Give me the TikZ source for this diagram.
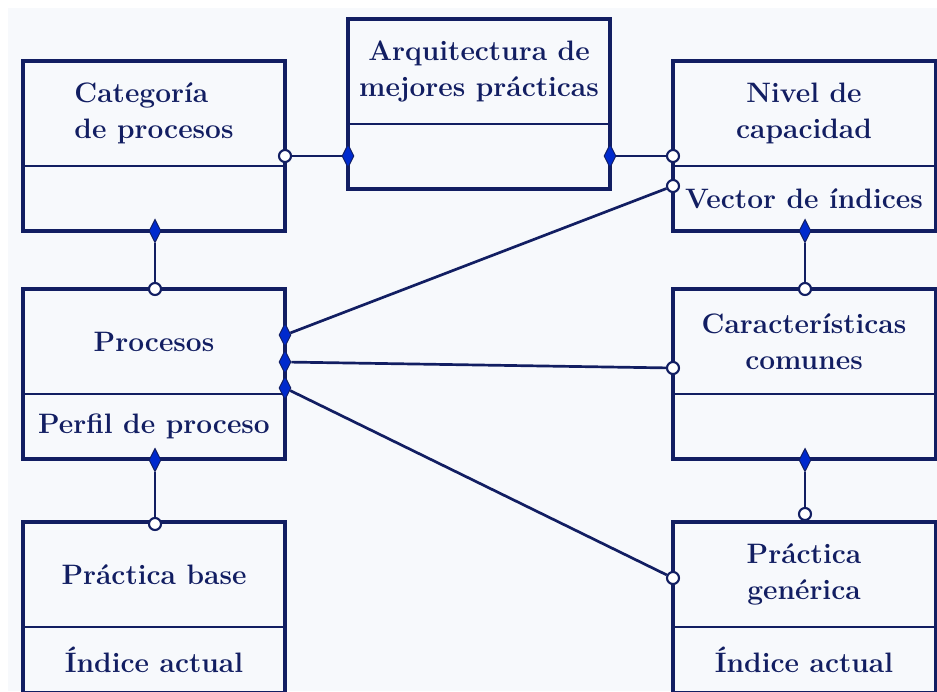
\documentclass[tikz,border=0pt]{standalone}
\usepackage{fontspec}
\usepackage[table]{xcolor}
\usepackage{amsmath}
\usepackage{tikz}
\usetikzlibrary{shapes.geometric,positioning}

\definecolor{navy}{RGB}{18,30,98}
\definecolor{dblue}{RGB}{0,42,205}
\definecolor{bgtint}{RGB}{247,249,252}

\begin{document}
\begin{tikzpicture}[x=0.03cm, y=-0.03cm,
		upper/.style={draw=navy, line width=1.7pt, text=navy, font=\fontsize{24}{31}\selectfont\bfseries, align=center, minimum width=7.86cm, minimum height=3.15cm, inner sep=0pt, outer sep=0pt},
		lower/.style={upper, minimum height=1.95cm},
		outer/.style={draw=navy, line width=2.6pt},
		dmd/.style={diamond, draw=navy, fill=dblue, line width=0.8pt, minimum width=0.36cm, minimum height=0.7cm, inner sep=0pt},
		circ/.style={circle, draw=navy, fill=white, line width=1.8pt, minimum size=0.36cm, inner sep=0pt},
		link/.style={draw=navy, line width=2.3pt}]
				\useasboundingbox (0,0) rectangle (937,691);
				\fill[bgtint] (8,8) rectangle (937,691);
				
				% boxes
				\node[upper, anchor=north west, align=left] (cat) at (23,61) {Categoría\\de procesos};
				\node[lower, below=0pt of cat] (cat-low) {};
				\node[upper, anchor=north west] (arq) at (348,19) {Arquitectura de\\mejores prácticas};
				\node[lower, below=0pt of arq] (arq-low) {};
				\node[upper, anchor=north west] (niv) at (673,61) {Nivel de\\capacidad};
				\node[lower, below=0pt of niv] (niv-low) {Vector de índices};
				\node[upper, anchor=north west] (proc) at (23,289) {Procesos};
				\node[lower, below=0pt of proc] (proc-low) {Perfil de proceso};
				\node[upper, anchor=north west] (car) at (673,289) {Características\\comunes};
				\node[lower, below=0pt of car] (car-low) {};
				\node[upper, anchor=north west] (pb) at (23,522) {Práctica base};
				\node[lower, below=0pt of pb] (pb-low) {Índice actual};
				\node[upper, anchor=north west] (pg) at (673,522) {Práctica\\genérica};
				\node[lower, below=0pt of pg] (pg-low) {Índice actual};
				\foreach \b in {cat,arq,niv,proc,car,pb,pg}
					\draw[outer] (\b.north west) rectangle (\b-low.south east);
				\draw[navy, line width=4pt] (arq.north west) -- (arq-low.south west);
				
				% markers
				\node[circ] (c1) at (285,156) {};
				\node[dmd] (d1) at (348,156) {};
				\node[dmd] (d2) at (610,156) {};
				\node[circ] (c2) at (673,156) {};
				\node[dmd] (d3) at (155,231) {};
				\node[circ] (c3) at (155,289) {};
				\node[dmd] (d4) at (805,231) {};
				\node[circ] (c4) at (805,289) {};
				\node[dmd] (d5) at (285,335) {};
				\node[circ] (c5) at (673,186) {};
				\node[dmd] (d6) at (285,362) {};
				\node[circ] (c6) at (673,368) {};
				\node[dmd] (d7) at (285,388) {};
				\node[circ] (c7) at (673,578) {};
				\node[dmd] (d8) at (155,460) {};
				\node[circ] (c8) at (155,524) {};
				\node[dmd] (d9) at (805,460) {};
				\node[circ] (c9) at (805,514) {};
				
				% connectors
				\foreach \i in {1,...,9}
					\path[link] (d\i) -- (c\i);
			\end{tikzpicture}
\end{document}
